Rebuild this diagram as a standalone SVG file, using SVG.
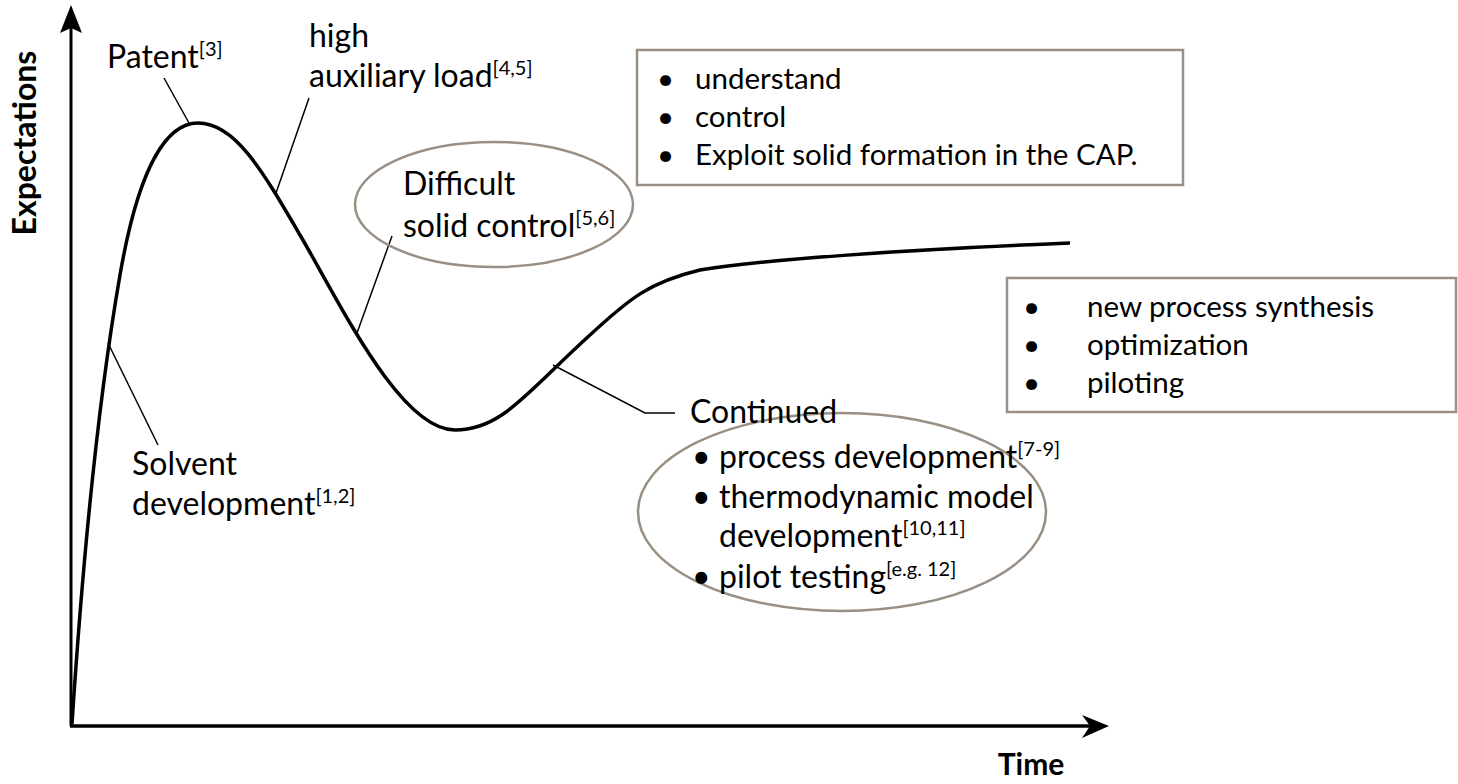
<svg xmlns="http://www.w3.org/2000/svg" width="1458" height="784" viewBox="0 0 1458 784">
<style>
.lbl{font-family:Lato,"Open Sans","Liberation Sans",sans-serif;font-size:32px;fill:#000}
.box{font-family:Lato,"Open Sans","Liberation Sans",sans-serif;font-size:29.5px;fill:#000}
.sup{font-size:20px}
.ax{font-family:Lato,"Liberation Sans",sans-serif;font-size:32px;font-weight:bold;fill:#000}
.frame{fill:#fff;stroke:#9a8f84;stroke-width:2.5}
.ell{fill:none;stroke:#9a8f84;stroke-width:2.5}
.lead{fill:none;stroke:#000;stroke-width:1.5}
</style>
<rect width="1458" height="784" fill="#fff"/>
<g id="axes">
<line x1="71" y1="726" x2="71" y2="28" stroke="#000" stroke-width="3"/>
<path d="M71,5 L82,33 L71,28 L60,33 Z" fill="#000"/>
<line x1="70" y1="726" x2="1090" y2="726" stroke="#000" stroke-width="3.5"/>
<path d="M1109,726 L1082,715 L1090,726 L1082,738 Z" fill="#000"/>
<text class="ax" transform="translate(36,143) rotate(-90)" text-anchor="middle">Expectations</text>
<text class="ax" x="1031" y="775" text-anchor="middle" style="font-size:30px">Time</text>
</g>
<g id="curve">
<path d="M72,724 C84,540 100,390 120,275 C138,171 165,123 198,123 C235,123 262,170 300,235 C340,303 400,430 455,430 C502,430 527,392 590,335 C630,298 650,282 700,270 C760,260 900,250 1070,243" fill="none" stroke="#000" stroke-width="3.5"/>
</g>
<g id="connectors">
<line class="lead" x1="164" y1="78" x2="189" y2="123"/>
<line class="lead" x1="309" y1="98" x2="276" y2="193"/>
<line class="lead" x1="392" y1="236" x2="357" y2="333"/>
<line class="lead" x1="108" y1="343" x2="158" y2="445"/>
<polyline class="lead" points="553,365 645,413 675,413"/>
</g>
<g id="patent">
<text class="lbl" x="107" y="68">Patent<tspan class="sup" dy="-12">[3]</tspan></text>
</g>
<g id="aux-load">
<text class="lbl" x="309" y="47">high</text>
<text class="lbl" x="309" y="87">auxiliary load<tspan class="sup" dy="-12">[4,5]</tspan></text>
</g>
<g id="box-understand">
<rect class="frame" x="637" y="50" width="546" height="135"/>
<text class="box" x="657" y="89">•</text>
<text class="box" x="695" y="89">understand</text>
<text class="box" x="657" y="127">•</text>
<text class="box" x="695" y="127">control</text>
<text class="box" x="657" y="165">•</text>
<text class="box" x="695" y="165">Exploit solid formation in the CAP.</text>
</g>
<g id="difficult">
<ellipse class="ell" cx="494" cy="204.5" rx="139" ry="62.5"/>
<text class="lbl" x="403" y="195">Difficult</text>
<text class="lbl" x="403" y="237">solid control<tspan class="sup" dy="-12">[5,6]</tspan></text>
</g>
<g id="solvent">
<text class="lbl" x="132" y="475">Solvent</text>
<text class="lbl" x="132" y="515">development<tspan class="sup" dy="-12">[1,2]</tspan></text>
</g>
<g id="box-process">
<rect class="frame" x="1007" y="278" width="449" height="134"/>
<text class="box" x="1023" y="317">•</text>
<text class="box" x="1087" y="317">new process synthesis</text>
<text class="box" x="1023" y="355">•</text>
<text class="box" x="1087" y="355">optimization</text>
<text class="box" x="1023" y="393">•</text>
<text class="box" x="1087" y="393">piloting</text>
</g>
<g id="continued">
<ellipse class="ell" cx="842" cy="512" rx="204" ry="99"/>
<text class="lbl" x="690" y="423">Continued</text>
<text class="lbl" x="692" y="468">•</text>
<text class="lbl" x="719" y="468">process development<tspan class="sup" dy="-12">[7-9]</tspan></text>
<text class="lbl" x="692" y="508">•</text>
<text class="lbl" x="719" y="508">thermodynamic model</text>
<text class="lbl" x="719" y="547">development<tspan class="sup" dy="-12">[10,11]</tspan></text>
<text class="lbl" x="692" y="588">•</text>
<text class="lbl" x="719" y="588">pilot testing<tspan class="sup" dy="-12">[e.g. 12]</tspan></text>
</g>
</svg>
